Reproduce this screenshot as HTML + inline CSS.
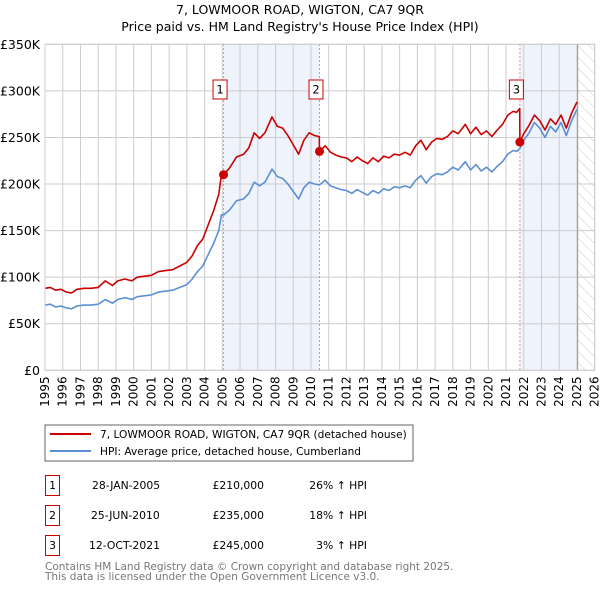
<!DOCTYPE html>
<html><head><meta charset="utf-8"><style>
body{margin:0;background:#fff;font-family:"DejaVu Sans","Liberation Sans",sans-serif;}
svg text{font-family:"DejaVu Sans","Liberation Sans",sans-serif;}
</style></head><body>
<svg id="chart" width="600" height="590" xmlns="http://www.w3.org/2000/svg">
<defs><pattern id="hatch" width="8" height="8" patternUnits="userSpaceOnUse" patternTransform="rotate(-45)"><line x1="0" y1="0" x2="0" y2="8" stroke="#ccc" stroke-width="1"/></pattern></defs>
<text x="300" y="14" text-anchor="middle" font-size="12.5">7, LOWMOOR ROAD, WIGTON, CA7 9QR</text>
<text x="300" y="31" text-anchor="middle" font-size="12.5">Price paid vs. HM Land Registry's House Price Index (HPI)</text>
<g id="plot"></g>
<rect x="45" y="425" width="368" height="36" fill="#fff" stroke="#666"/>
<line x1="50" y1="434" x2="91" y2="434" stroke="#cc0000" stroke-width="2"/>
<text x="100" y="438" font-size="10.6">7, LOWMOOR ROAD, WIGTON, CA7 9QR (detached house)</text>
<line x1="50" y1="451" x2="91" y2="451" stroke="#5b8fd4" stroke-width="2"/>
<text x="100" y="455" font-size="10.6">HPI: Average price, detached house, Cumberland</text>
<g font-size="10.8">
<rect x="45.5" y="475.5" width="14" height="20" fill="none" stroke="#cc0000"/><text x="52.5" y="489" text-anchor="middle">1</text>
<text x="92" y="489">28-JAN-2005</text><text x="264" y="489" text-anchor="end">£210,000</text><text x="367" y="489" text-anchor="end">26% ↑ HPI</text>
<rect x="45.5" y="505.5" width="14" height="20" fill="none" stroke="#cc0000"/><text x="52.5" y="519" text-anchor="middle">2</text>
<text x="91" y="519">25-JUN-2010</text><text x="264" y="519" text-anchor="end">£235,000</text><text x="367" y="519" text-anchor="end">18% ↑ HPI</text>
<rect x="45.5" y="535.5" width="14" height="20" fill="none" stroke="#cc0000"/><text x="52.5" y="549" text-anchor="middle">3</text>
<text x="89" y="549">12-OCT-2021</text><text x="264" y="549" text-anchor="end">£245,000</text><text x="367" y="549" text-anchor="end">3% ↑ HPI</text>
</g>
<text x="45" y="570" font-size="10.5" fill="#777">Contains HM Land Registry data © Crown copyright and database right 2025.</text>
<text x="45" y="580" font-size="10.5" fill="#777">This data is licensed under the Open Government Licence v3.0.</text>
</svg>
<script>
const hpiYears=[1995.0,1995.3,1995.6,1995.9,1996.2,1996.5,1996.8,1997.2,1997.6,1998.0,1998.4,1998.8,1999.1,1999.5,1999.9,2000.2,2000.6,2001.0,2001.4,2001.8,2002.2,2002.6,2003.0,2003.3,2003.6,2003.9,2004.2,2004.5,2004.8,2004.95,2005.07,2005.4,2005.8,2006.2,2006.5,2006.8,2007.1,2007.4,2007.8,2008.1,2008.4,2008.7,2009.0,2009.3,2009.6,2009.9,2010.2,2010.48,2010.8,2011.1,2011.4,2011.7,2012.0,2012.3,2012.6,2012.9,2013.2,2013.5,2013.8,2014.1,2014.4,2014.7,2015.0,2015.3,2015.6,2015.9,2016.2,2016.5,2016.8,2017.1,2017.4,2017.7,2018.0,2018.3,2018.7,2019.0,2019.3,2019.6,2019.9,2020.2,2020.5,2020.8,2021.1,2021.4,2021.6,2021.78,2022.0,2022.3,2022.6,2022.9,2023.2,2023.5,2023.8,2024.1,2024.4,2024.7,2025.0];
const hpiValues=[70,71,68,69,67,66,69,70,70,71,76,72,76,78,76,79,80,81,84,85,86,89,92,98,106,112,124,136,150,167,166.7,172,182,184,190,202,198,202,216,208,206,200,192,184,196,202,200,199,204,198,196,194,193,190,194,191,188,193,190,195,193,197,196,198,196,204,209,201,208,211,210,213,218,215,224,215,221,214,218,213,219,224,232,236,235,238,247,255,266,260,250,262,256,266,252,268,280];
const redYears=[1995.0,1995.3,1995.6,1995.9,1996.2,1996.5,1996.8,1997.2,1997.6,1998.0,1998.4,1998.8,1999.1,1999.5,1999.9,2000.2,2000.6,2001.0,2001.4,2001.8,2002.2,2002.6,2003.0,2003.3,2003.6,2003.9,2004.2,2004.5,2004.8,2004.95,2005.07,2005.4,2005.8,2006.2,2006.5,2006.8,2007.1,2007.4,2007.8,2008.1,2008.4,2008.7,2009.0,2009.3,2009.6,2009.9,2010.2,2010.47,2010.48,2010.8,2011.1,2011.4,2011.7,2012.0,2012.3,2012.6,2012.9,2013.2,2013.5,2013.8,2014.1,2014.4,2014.7,2015.0,2015.3,2015.6,2015.9,2016.2,2016.5,2016.8,2017.1,2017.4,2017.7,2018.0,2018.3,2018.7,2019.0,2019.3,2019.6,2019.9,2020.2,2020.5,2020.8,2021.1,2021.4,2021.6,2021.77,2021.78,2022.0,2022.3,2022.6,2022.9,2023.2,2023.5,2023.8,2024.1,2024.4,2024.7,2025.0];
const redValues=[88,89,86,87,84,83,87,88,88,89,96,91,96,98,96,100,101,102,106,107,108,112,116,123,134,141,156,171,189,210,210,217,229,232,239,255,249,255,272,262,260,252,242,232,247,255,252,251,235,241,234,231,229,228,224,229,225,222,228,224,230,228,232,231,234,231,241,247,237,245,249,248,251,257,254,264,254,261,253,257,251,258,264,274,278,277,281,245,254,263,274,268,258,270,264,274,260,276,288];
const saleYears=[2005.07,2010.48,2021.78];
const saleValues=[210,235,245];
const saleLabels=["1","2","3"];
const yTickValues=[0,50,100,150,200,250,300,350];
const yTickLabels=["£0","£50K","£100K","£150K","£200K","£250K","£300K","£350K"];
const xTickYears=[1995,1996,1997,1998,1999,2000,2001,2002,2003,2004,2005,2006,2007,2008,2009,2010,2011,2012,2013,2014,2015,2016,2017,2018,2019,2020,2021,2022,2023,2024,2025,2026];

const NS="http://www.w3.org/2000/svg";
const X0=45,X1=594.7,Y0=370.3,Y1=44.3;
const xs=y=>X0+(y-1995)/(2026-1995)*(X1-X0);
const ys=v=>Y0-v/350*(Y0-Y1);
const plot=document.getElementById('plot');
function mk(t,a,p){const e=document.createElementNS(NS,t);for(const k in a)e.setAttribute(k,a[k]);(p||plot).appendChild(e);return e;}
let e;
e=mk('rect',{x:xs(saleYears[0]),y:Y1,width:xs(saleYears[1])-xs(saleYears[0]),height:Y0-Y1,fill:'#eef3fc'});


e=mk('rect',{x:xs(saleYears[2]),y:Y1,width:xs(2025.04)-xs(saleYears[2]),height:Y0-Y1,fill:'#eef3fc'});


e=mk('rect',{x:xs(2025.04),y:Y1,width:X1-xs(2025.04),height:Y0-Y1,fill:'url(#hatch)'});


xTickYears.forEach(yr=>{
  const g=mk('line',{x1:xs(yr),x2:xs(yr),y1:Y1,y2:Y0,stroke:'#ccc','stroke-width':1});
  
  
  const t=mk('text',{x:0,y:0,'font-size':12,'text-anchor':'end',transform:`translate(${xs(yr)+4},${Y0+6}) rotate(-90)`});
  t.textContent=yr;
  
  
});
yTickValues.forEach((v,i)=>{
  const g=mk('line',{x1:X0,x2:X1,y1:ys(v),y2:ys(v),stroke:'#ccc','stroke-width':1});
  
  
  const t=mk('text',{x:40,y:ys(v)+4.5,'font-size':12.5,'text-anchor':'end'});
  t.textContent=yTickLabels[i];
  
  
});
e=mk('line',{x1:xs(2025.04),x2:xs(2025.04),y1:Y1,y2:Y0,stroke:'#999','stroke-width':1});


saleYears.forEach(yr=>{
  const l=mk('line',{x1:xs(yr),x2:xs(yr),y1:Y1,y2:Y0,stroke:'#ee6666','stroke-width':1,'stroke-dasharray':'1.5,2.5'});
  
  
});
function line(xa,va,col,name){
  const d=xa.map((x,i)=>(i?'L':'M')+xs(x).toFixed(1)+','+ys(va[i]).toFixed(1)).join('');
  const p=mk('path',{d,fill:'none',stroke:col,'stroke-width':1.6,'stroke-linejoin':'round'});
  
  
}
line(hpiYears,hpiValues,'#5b8fd4','hpi-line');
line(redYears,redValues,'#cc0000','property-price-line');
saleYears.forEach((yr,i)=>{
  const c=mk('circle',{cx:xs(yr),cy:ys(saleValues[i]),r:4.5,fill:'#cc0000'});
  
  
  const r=mk('rect',{x:xs(yr)-10.5,y:80,width:14,height:19,fill:'#fff',stroke:'#cc0000'});
  
  
  const t=mk('text',{x:xs(yr)-3.5,y:93.5,'font-size':11.5,'text-anchor':'middle'});
  t.textContent=saleLabels[i];
  
  
});
e=mk('rect',{x:X0,y:Y1,width:X1-X0,height:Y0-Y1,fill:'none',stroke:'#ccc'});


</script>
</body></html>
